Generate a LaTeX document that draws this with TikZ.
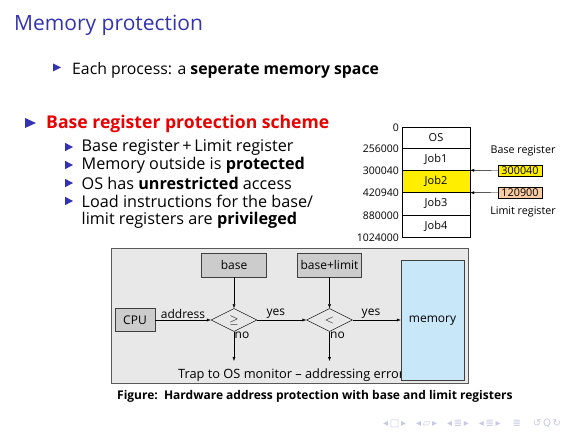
\documentclass[tikz,border=0pt]{standalone}
\usepackage{fontspec}
\setmainfont{Open Sans}
\newfontfamily\navfont{DejaVu Sans}
\usepackage{tikz}
\usetikzlibrary{shapes.geometric, positioning, arrows.meta}

\definecolor{titleblue}{RGB}{51,51,178}
\definecolor{schemered}{RGB}{232,0,0}
\definecolor{jobyellow}{RGB}{255,238,0}
\definecolor{limitpeach}{RGB}{250,204,164}
\definecolor{panelgray}{RGB}{232,232,232}
\definecolor{boxgray}{RGB}{204,204,204}
\definecolor{memblue}{RGB}{200,232,250}
\definecolor{navgray}{RGB}{200,200,225}

\begin{document}
\begin{tikzpicture}[x=1pt, y=-1pt, >={Latex[length=4pt,width=3pt]},
    bigtri/.style={fill=titleblue},
    regbox/.style={draw, inner sep=0pt, minimum width=44pt, minimum height=11.5pt,
        font=\fontsize{10.8}{10.8}\selectfont},
    jobrow/.style={draw, inner sep=0pt, minimum width=68pt, font=\fontsize{11}{11}\selectfont},
    gbox/.style={draw=black!75, fill=boxgray, inner sep=0pt, minimum height=24pt,
        font=\fontsize{12}{12}\selectfont},
    test/.style={diamond, draw, inner sep=0pt, minimum width=46pt, minimum height=23pt,
        font=\fontsize{12}{12}\selectfont},
    lbl/.style={font=\fontsize{12}{12}\selectfont, inner sep=1pt}]
    \useasboundingbox (0,0) rectangle (580,435);

    % 1. Tieu de va cac gach dau dong
    \node[anchor=base west, text=titleblue, font=\fontsize{21}{21}\selectfont, inner sep=0pt]
        (title) at (14,31) {Memory protection};
    \fill[bigtri] (53,63.5) -- (61,67.5) -- (53,71.5) -- cycle;
    \node[anchor=west, font=\fontsize{15.8}{15.8}\selectfont, inner sep=0pt]
        (pt1) at (72,70) {Each process: a \textbf{seperate memory space}};
    \fill[bigtri] (25,118) -- (36,123) -- (25,128) -- cycle;
    \node[anchor=west, text=schemered, font=\bfseries\fontsize{17.6}{17.6}\selectfont, inner sep=0pt]
        (pt2) at (46,124) {Base register protection scheme};
    \foreach \yy/\txt [count=\i] in {147/{Base register\,+\,Limit register},
            165/{Memory outside is \textbf{protected}},
            183/{OS has \textbf{unrestricted} access},
            201/{Load instructions for the base/}} {
        \fill[bigtri] (65,\yy-4.2) -- (73,\yy) -- (65,\yy+4.2) -- cycle;
        \node[anchor=west, font=\fontsize{16.2}{16.2}\selectfont, inner sep=0pt]
            (sub\i) at (81.5,\yy+0.5) {\txt};
    }
    \node[anchor=west, font=\fontsize{16.2}{16.2}\selectfont, inner sep=0pt]
        (sub5) at (81.5,220.5) {limit registers are \textbf{privileged}};

    % 2. Bang bo nho
    \foreach \name/\txt/\top/\bot in {os/OS/127/148, job1/Job1/148/170.5,
            job2/Job2/170.5/192.5, job3/Job3/192.5/215, job4/Job4/215/237} {
        \node[jobrow, minimum height={(\bot-\top)*1pt}] (\name) at (436,{(\top+\bot)/2}) {\txt};
    }
    \fill[jobyellow] (job2.north west) rectangle (job2.south east);
    \node[jobrow, minimum height=22pt] at (job2) {Job2};
    \foreach \yy/\txt in {127/0, 148/256000, 170.5/300040, 192.5/420940, 215/880000, 237/1024000} {
        \node[anchor=east, font=\fontsize{10.5}{10.5}\selectfont, inner sep=0pt] at (399,\yy+0.5) {\txt};
    }
    \node[font=\fontsize{10.7}{10.7}\selectfont] (baselbl) at (523,151) {Base register};
    \node[regbox, fill=jobyellow] (basereg) at (520,170.5) {300040};
    \node[regbox, fill=limitpeach] (limitreg) at (520,192.5) {120900};
    \node[font=\fontsize{10.7}{10.7}\selectfont] (limitlbl) at (523,211.5) {Limit register};
    \draw[->] (basereg.west) -- (job2.north east);
    \draw[->] (limitreg.west) -- (job2.south east);

    % 3. So do phan cung
    \draw[draw=black!65, fill=panelgray] (111.5,248.5) rectangle (468,383);
    \node[font=\fontsize{12.8}{12.8}\selectfont, inner sep=0pt, anchor=west]
        (trap) at (178,375.5) {Trap to OS monitor -- addressing error};
    \node[draw=black!75, fill=memblue, minimum width=63pt, minimum height=120pt,
        inner sep=0pt, font=\fontsize{12}{12}\selectfont] (mem) at (432.5,320.5) {memory};
    \node[gbox, minimum width=40pt, minimum height=23pt] (cpu) at (135,320) {CPU};
    \node[gbox, minimum width=65pt] (base) at (234,265) {base};
    \node[gbox, minimum width=64pt] (baselim) at (329.5,265) {base+limit};
    \node[test] (ge) at (234,320) {$\geq$};
    \node[test] (lt) at (329.5,320) {$<$};
    \coordinate (trap1) at (234,361);
    \coordinate (trap2) at (329.5,361);

    \draw[->] (cpu) -- node[lbl, above] {address} (ge);
    \draw[->] (ge) -- node[lbl, above, pos=0.38] {yes} (lt);
    \draw[->] (lt) -- node[lbl, above, pos=0.38] {yes} (mem.west |- lt);
    \draw[->] (base) -- (ge);
    \draw[->] (baselim) -- (lt);
    \draw[->] (ge) -- (trap1);
    \draw[->] (lt) -- (trap2);
    \node[lbl, anchor=north west, inner sep=0.5pt] at (ge.south) {no};
    \node[lbl, anchor=north west, inner sep=0.5pt] at (lt.south) {no};

    \node[anchor=west, font=\bfseries\fontsize{12}{12}\selectfont, inner sep=0pt]
        (caption) at (117,396) {Figure:\ \ Hardware address protection with base and limit registers};

    % 4. Ky hieu dieu huong
    \node[anchor=west, text=navgray, font=\navfont\fontsize{10}{10}\selectfont, inner sep=0pt]
        (nav) at (383,423) {◂\,□\,▸\hspace{10pt}◂\,▱\,▸\hspace{10pt}◂\,≣\,▸\hspace{10pt}◂\,≣\,▸\hspace{12pt}≣\hspace{12pt}↺\,Q\,↻};
\end{tikzpicture}
\end{document}
